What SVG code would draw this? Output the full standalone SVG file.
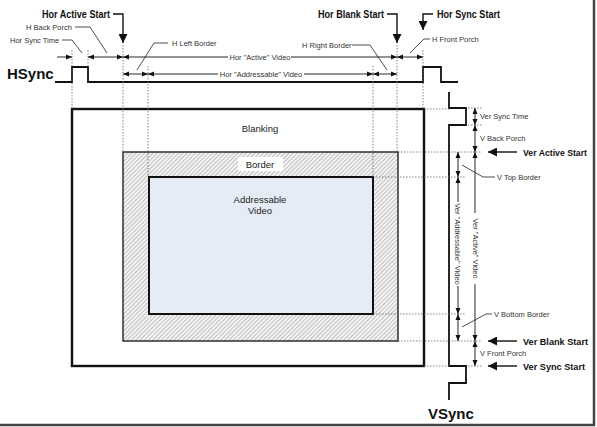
<svg xmlns="http://www.w3.org/2000/svg" width="597" height="427" viewBox="0 0 597 427">
<defs>
<style>
.dim{stroke:#111;stroke-width:0.9;fill:none}
.dot{stroke:#666;stroke-width:0.8;stroke-dasharray:1.5 1.5;fill:none}
.lead{stroke:#222;stroke-width:0.8;fill:none}
.big{stroke:#111;stroke-width:1.4;fill:none}
.sig{stroke:#111;stroke-width:1.8;fill:none}
.sm{font-family:"Liberation Sans",Arial,sans-serif;font-size:7.5px;fill:#333}
.lb{font-family:"Liberation Sans",Arial,sans-serif;font-size:10.5px;font-weight:bold;fill:#111}
.lv{font-family:"Liberation Sans",Arial,sans-serif;font-size:9px;font-weight:bold;fill:#111}
.sg{font-family:"Liberation Sans",Arial,sans-serif;font-size:15px;font-weight:bold;fill:#111}
.nd{font-family:"Liberation Sans",Arial,sans-serif;font-size:9.5px;fill:#222;text-anchor:middle}
</style>
<marker id="a" markerUnits="userSpaceOnUse" markerWidth="6" markerHeight="6" refX="6" refY="3" orient="auto-start-reverse"><path d="M0,0.5 L6,3 L0,5.5 z" fill="#111"/></marker>
<marker id="A" markerUnits="userSpaceOnUse" markerWidth="9" markerHeight="9" refX="9" refY="4.5" orient="auto-start-reverse"><path d="M0,0 L9,4.5 L0,9 z" fill="#111"/></marker>
<pattern id="hatch" patternUnits="userSpaceOnUse" width="3" height="3" patternTransform="rotate(45)"><rect width="3" height="3" fill="#f4f4f4"/><line x1="0" y1="0" x2="0" y2="3" stroke="#8a8a8a" stroke-width="1"/></pattern>
</defs>
<rect width="597" height="427" fill="#fff"/>

<g id="blanking">
<rect x="72" y="109" width="352" height="257" fill="#fff" stroke="#111" stroke-width="2.4"/>
<text class="nd" x="260" y="132">Blanking</text>
</g>
<g id="border">
<rect x="123" y="152" width="275" height="189" fill="url(#hatch)" stroke="#222" stroke-width="1.4"/>
<rect x="238" y="157" width="45" height="14" fill="#fff"/>
<text class="nd" x="260" y="168">Border</text>
</g>
<g id="addressable">
<rect x="149" y="177" width="224" height="137" fill="#e6ecf6" stroke="#111" stroke-width="2"/>
<text class="nd" x="260" y="203">Addressable</text>
<text class="nd" x="260" y="214">Video</text>
</g>

<g id="hsync">
<polyline class="sig" points="55,82 72,82 72,67 88,67 88,82 423,82 423,67 441,67 441,82 458,82"/>
<text class="sg" x="7" y="79">HSync</text>
</g>
<g id="vsync">
<polyline class="sig" points="449,92 449,108 466,108 466,125 449,125 449,366 466,366 466,383 449,383 449,400"/>
<text class="sg" x="428" y="419">VSync</text>
</g>

<g id="connectors">
<line class="dot" x1="72" y1="50" x2="72" y2="109"/>
<line class="dot" x1="88" y1="50" x2="88" y2="67"/>
<line class="dot" x1="123" y1="45" x2="123" y2="152"/>
<line class="dot" x1="148" y1="66" x2="148" y2="177"/>
<line class="dot" x1="373" y1="66" x2="373" y2="177"/>
<line class="dot" x1="397" y1="45" x2="397" y2="152"/>
<line class="dot" x1="423" y1="50" x2="423" y2="109"/>
<line class="dot" x1="424" y1="109" x2="449" y2="109"/>
<line class="dot" x1="468" y1="108" x2="482" y2="108"/>
<line class="dot" x1="468" y1="125" x2="482" y2="125"/>
<line class="dot" x1="398" y1="152" x2="482" y2="152"/>
<line class="dot" x1="373" y1="177" x2="465" y2="177"/>
<line class="dot" x1="373" y1="314" x2="465" y2="314"/>
<line class="dot" x1="398" y1="341" x2="482" y2="341"/>
<line class="dot" x1="424" y1="366" x2="449" y2="366"/>
<line class="dot" x1="468" y1="366" x2="482" y2="366"/>

<line class="dim" x1="57" y1="57" x2="72" y2="57" marker-end="url(#a)"/>
<line class="dim" x1="88" y1="57" x2="123" y2="57" marker-start="url(#a)" marker-end="url(#a)"/>
<line class="dim" x1="123" y1="57" x2="228" y2="57" marker-start="url(#a)"/>
<line class="dim" x1="291" y1="57" x2="397" y2="57" marker-end="url(#a)"/>
<line class="dim" x1="397" y1="57" x2="423" y2="57" marker-start="url(#a)" marker-end="url(#a)"/>
<line class="dim" x1="123" y1="74" x2="148" y2="74" marker-start="url(#a)" marker-end="url(#a)"/>
<line class="dim" x1="148" y1="74" x2="218" y2="74" marker-start="url(#a)"/>
<line class="dim" x1="304" y1="74" x2="373" y2="74" marker-end="url(#a)"/>
<line class="dim" x1="373" y1="74" x2="397" y2="74" marker-start="url(#a)" marker-end="url(#a)"/>

<line class="dim" x1="475" y1="108" x2="475" y2="125" marker-start="url(#a)" marker-end="url(#a)"/>
<line class="dim" x1="475" y1="125" x2="475" y2="152" marker-start="url(#a)" marker-end="url(#a)"/>
<line class="dim" x1="475" y1="152" x2="475" y2="213" marker-start="url(#a)"/>
<line class="dim" x1="475" y1="284" x2="475" y2="341" marker-end="url(#a)"/>
<line class="dim" x1="475" y1="341" x2="475" y2="366" marker-start="url(#a)" marker-end="url(#a)"/>
<line class="dim" x1="458" y1="152" x2="458" y2="177" marker-start="url(#a)" marker-end="url(#a)"/>
<line class="dim" x1="458" y1="177" x2="458" y2="202" marker-start="url(#a)"/>
<line class="dim" x1="458" y1="286" x2="458" y2="314" marker-end="url(#a)"/>
<line class="dim" x1="458" y1="314" x2="458" y2="341" marker-start="url(#a)" marker-end="url(#a)"/>

<polyline class="lead" points="75,27 90,27 107,53"/>
<polyline class="lead" points="62,40 72,40 82,53"/>
<polyline class="lead" points="168,43 154,43 137,70"/>
<polyline class="lead" points="352,45 370,45 387,70"/>
<polyline class="lead" points="430,39 424,39 410,53"/>
<polyline class="lead" points="495,177 483,177 462,165"/>
<polyline class="lead" points="492,314 486,314 462,327"/>

<polyline class="big" points="113,14 123,14 123,43" marker-end="url(#A)"/>
<polyline class="big" points="387,14 397,14 397,43" marker-end="url(#A)"/>
<polyline class="big" points="433,14 423,14 423,30" marker-end="url(#A)"/>
<line class="big" x1="517" y1="152" x2="488" y2="152" marker-end="url(#A)"/>
<line class="big" x1="517" y1="341" x2="488" y2="341" marker-end="url(#A)"/>
<line class="big" x1="517" y1="366" x2="488" y2="366" marker-end="url(#A)"/>
</g>

<g id="labels">
<text class="lb" x="42" y="18" textLength="68" lengthAdjust="spacingAndGlyphs">Hor Active Start</text>
<text class="lb" x="318" y="18" textLength="66" lengthAdjust="spacingAndGlyphs">Hor Blank Start</text>
<text class="lb" x="437" y="18" textLength="63" lengthAdjust="spacingAndGlyphs">Hor Sync Start</text>
<text class="lv" x="523" y="155.5" textLength="64" lengthAdjust="spacingAndGlyphs">Ver Active Start</text>
<text class="lv" x="523" y="344.5" textLength="65" lengthAdjust="spacingAndGlyphs">Ver Blank Start</text>
<text class="lv" x="523" y="369.5" textLength="62" lengthAdjust="spacingAndGlyphs">Ver Sync Start</text>

<text class="sm" x="26" y="30">H Back Porch</text>
<text class="sm" x="10" y="43">Hor Sync Time</text>
<text class="sm" x="172" y="46">H Left Border</text>
<text class="sm" x="302" y="48">H Right Border</text>
<text class="sm" x="432" y="42">H Front Porch</text>
<text class="sm" x="260" y="60" text-anchor="middle">Hor "Active" Video</text>
<text class="sm" x="261" y="77" text-anchor="middle">Hor "Addressable" Video</text>
<text class="sm" x="480" y="119">Ver Sync Time</text>
<text class="sm" x="480" y="141">V Back Porch</text>
<text class="sm" x="497" y="180">V Top Border</text>
<text class="sm" x="494" y="317">V Bottom Border</text>
<text class="sm" x="480" y="356">V Front Porch</text>
<text class="sm" x="475" y="251" text-anchor="middle" transform="rotate(90 475 248.5)">Ver "Active" Video</text>
<text class="sm" x="458" y="247" text-anchor="middle" transform="rotate(90 458 244)">Ver "Addressable" Video</text>
</g>

<g id="frame">
<line x1="594" y1="0" x2="594" y2="426" stroke="#444" stroke-width="2.5"/>
<line x1="0" y1="425" x2="595" y2="425" stroke="#444" stroke-width="2.5"/>
</g>
</svg>
